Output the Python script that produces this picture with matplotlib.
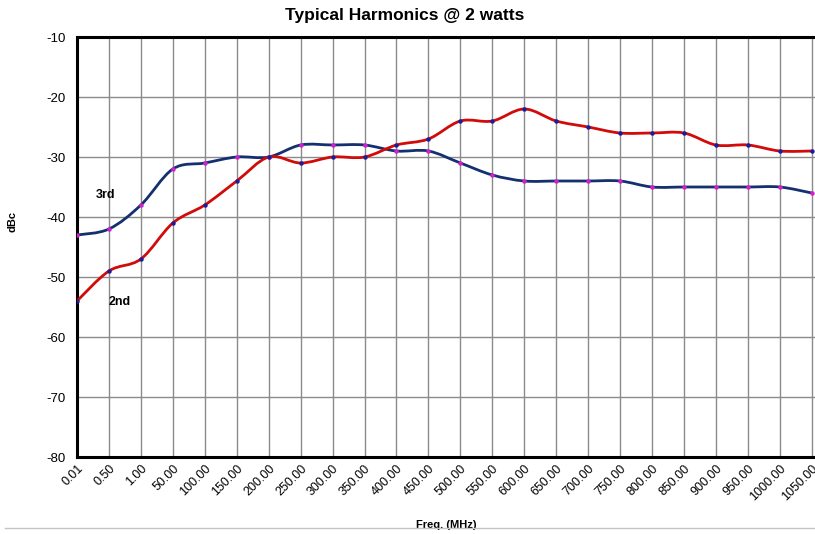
import numpy as np
import matplotlib.pyplot as plt
from matplotlib.path import Path
from matplotlib.patches import PathPatch
from matplotlib.lines import Line2D

plt.rcParams['font.family'] = ['Liberation Sans Narrow', 'Liberation Sans', 'DejaVu Sans']
plt.rcParams['axes.unicode_minus'] = False

freq_labels = ["0.01", "0.50", "1.00", "50.00", "100.00", "150.00", "200.00",
               "250.00", "300.00", "350.00", "400.00", "450.00", "500.00",
               "550.00", "600.00", "650.00", "700.00", "750.00", "800.00",
               "850.00", "900.00", "950.00", "1000.00", "1050.00"]
third = [-43, -42, -38, -32, -31, -30, -30, -28, -28, -28, -29, -29,
         -31, -33, -34, -34, -34, -34, -35, -35, -35, -35, -35, -36]
second = [-54, -49, -47, -41, -38, -34, -30, -31, -30, -30, -28, -27,
          -24, -24, -22, -24, -25, -26, -26, -26, -28, -28, -29, -29]


def smooth(ax, x, y, color):
    # excel style smoothed line: bezier through every point
    x = np.asarray(x, float)
    y = np.asarray(y, float)
    n = len(x)
    verts = [(x[0], y[0])]
    codes = [Path.MOVETO]
    for i in range(n - 1):
        a = max(i - 1, 0)
        b = min(i + 2, n - 1)
        c1 = (x[i] + (x[i + 1] - x[a]) / 6, y[i] + (y[i + 1] - y[a]) / 6)
        c2 = (x[i + 1] - (x[b] - x[i]) / 6, y[i + 1] - (y[b] - y[i]) / 6)
        verts += [c1, c2, (x[i + 1], y[i + 1])]
        codes += [Path.CURVE4] * 3
    ax.add_patch(PathPatch(Path(verts, codes), fill=False, ec=color, lw=2.0,
                           zorder=3, capstyle='round', joinstyle='round'))


fig = plt.figure(figsize=(8.15, 5.34), dpi=100)
ax = fig.add_axes([77 / 815, 77 / 534, 738 / 815, 420 / 534])

x = np.arange(len(freq_labels))
smooth(ax, x, third, "#14306e")
smooth(ax, x, second, "#d10a0a")
ax.plot(x, third, ls='none', marker='o', ms=2.2, color="#d020d0", zorder=4)
ax.plot(x, second, ls='none', marker='o', ms=2.2, color="#1c1c9c", zorder=4)

ax.set_xlim(0, 23.1)
ax.set_ylim(-80, -10)
ax.set_yticks(np.arange(-80, -9, 10))
ax.set_xticks(x)
ax.set_xticklabels(freq_labels, rotation=45, ha='right', rotation_mode='anchor',
                   fontsize=9)
ax.tick_params(axis='y', labelsize=9.5, length=0, pad=8)
ax.tick_params(axis='x', length=0, pad=4)
ax.grid(True, color='#8a8a8a', lw=1.0)
ax.set_axisbelow(True)

for s in ['left', 'bottom', 'top']:
    ax.spines[s].set_linewidth(2.2)
    ax.spines[s].set_color('black')
ax.spines['right'].set_visible(False)

fig.suptitle("Typical Harmonics @ 2 watts", fontsize=12.5, fontweight='bold',
             x=0.497, y=1 - 8 / 534, va='top')
ax.set_xlabel("Freq. (MHz)", fontsize=8, fontweight='bold', labelpad=12)
ax.set_ylabel("dBc", fontsize=8, fontweight='bold')
ax.yaxis.set_label_coords(-0.081, 0.56)

ax.text(0.88, -36.3, "3rd", fontsize=9, fontweight='bold', ha='center', va='center')
ax.text(1.35, -54.2, "2nd", fontsize=9, fontweight='bold', ha='center', va='center')

fig.add_artist(Line2D([0.006, 1.0], [6 / 534, 6 / 534], transform=fig.transFigure,
                      color='#c4c4c4', lw=1.0))

fig.savefig("out.png", dpi=100)
